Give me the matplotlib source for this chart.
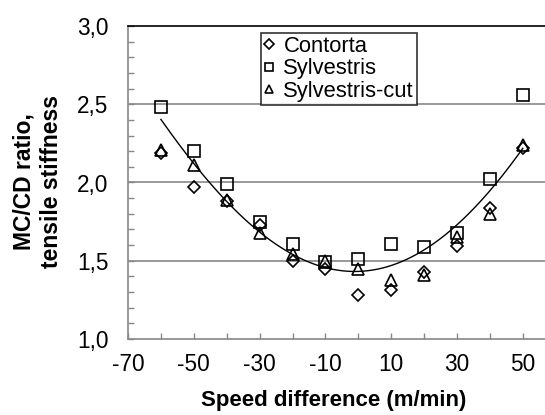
import numpy as np
import matplotlib
matplotlib.use("Agg")
import matplotlib.pyplot as plt
from matplotlib.ticker import MultipleLocator, FixedLocator, FuncFormatter

plt.rcParams['font.family'] = ['Liberation Sans', 'DejaVu Sans']
plt.rcParams['axes.unicode_minus'] = False

# ---- data ----
speed = [-60, -50, -40, -30, -20, -10, 0, 10, 20, 30, 40, 50]
contorta = [2.19, 1.97, 1.88, 1.73, 1.50, 1.45, 1.28, 1.31, 1.43, 1.595, 1.84, 2.22]
sylvestris = [2.48, 2.20, 1.99, 1.75, 1.61, 1.49, 1.51, 1.605, 1.59, 1.675, 2.02, 2.56]
sylvestris_cut = [2.21, 2.11, 1.89, 1.68, 1.54, 1.50, 1.45, 1.38, 1.41, 1.65, 1.80, 2.24]
trend = [2.40, 2.13, 1.87, 1.69, 1.54, 1.45, 1.43, 1.47, 1.59, 1.71, 1.95, 2.22]

series_names = ["Contorta", "Sylvestris", "Sylvestris-cut"]
x_tick_labels = [-70, -50, -30, -10, 10, 30, 50]
y_tick_labels = [1.0, 1.5, 2.0, 2.5, 3.0]

W, H = 545, 415
fig = plt.figure(figsize=(W / 100, H / 100), dpi=100)
ax = fig.add_axes([128 / W, (H - 339) / H, (W - 128) / W, 313 / H])

FS = 16.3
grey = "#888888"

# smooth trend curve through values
coef = np.polyfit(speed, trend, 4)
xs = np.linspace(min(speed), max(speed), 300)
ax.plot(xs, np.polyval(coef, xs), color="black", lw=1.0, zorder=3)

mk = dict(linestyle="none", markerfacecolor="none", markeredgecolor="black",
          markeredgewidth=1.2, zorder=4)
ax.plot(speed, contorta, marker="D", markersize=6.6, label=series_names[0], **mk)
ax.plot(speed, sylvestris, marker="s", markersize=9.2, label=series_names[1], **mk)
ax.plot(speed, sylvestris_cut, marker="^", markersize=9.2, label=series_names[2], **mk)

ax.set_xlim(-70, -70 + (W - 128) / 3.29)
ax.set_ylim(1.0, 3.0)

# grid lines
for yv in y_tick_labels[1:-1]:
    ax.axhline(yv, color=grey, lw=1.2, zorder=1)

ax.xaxis.set_major_locator(FixedLocator(x_tick_labels))
ax.xaxis.set_minor_locator(FixedLocator([-60, -40, -20, 0, 20, 40]))
ax.yaxis.set_major_locator(FixedLocator(y_tick_labels))
ax.yaxis.set_minor_locator(MultipleLocator(0.1))
ax.xaxis.set_major_formatter(FuncFormatter(lambda v, p: f"{v:.0f}"))
ax.yaxis.set_major_formatter(FuncFormatter(lambda v, p: f"{v:.1f}".replace(".", ",")))

ax.tick_params(axis="both", which="both", direction="in", color=grey, width=1.0,
               length=4, labelsize=FS, labelcolor="black")
ax.tick_params(axis="y", which="major", pad=14)
ax.tick_params(axis="x", which="major", pad=10)

for s in ["left", "bottom"]:
    ax.spines[s].set_color(grey)
    ax.spines[s].set_linewidth(1.2)
ax.spines["top"].set_color("black")
ax.spines["top"].set_linewidth(1.2)
ax.spines["right"].set_visible(False)

leg = ax.legend(loc="upper left", bbox_to_anchor=((261 - 128) / (W - 128), (339 - 33) / 313),
                borderaxespad=0, frameon=True, fancybox=False, fontsize=15.8,
                handlelength=0.5, handletextpad=0.4, borderpad=0.12,
                labelspacing=0.08, markerscale=0.7)
leg.get_frame().set_edgecolor("black")
leg.get_frame().set_linewidth(1.2)

fig.text(334 / W, 1 - 400 / H, "Speed difference (m/min)", ha="center", va="center",
         fontsize=16, fontweight="bold")
fig.text(38 / W, 1 - 182 / H, "MC/CD ratio,\ntensile stiffness", ha="center", va="center",
         rotation=90, fontsize=16.5, fontweight="bold", multialignment="center",
         linespacing=1.25)

fig.savefig("out.png", dpi=100)
